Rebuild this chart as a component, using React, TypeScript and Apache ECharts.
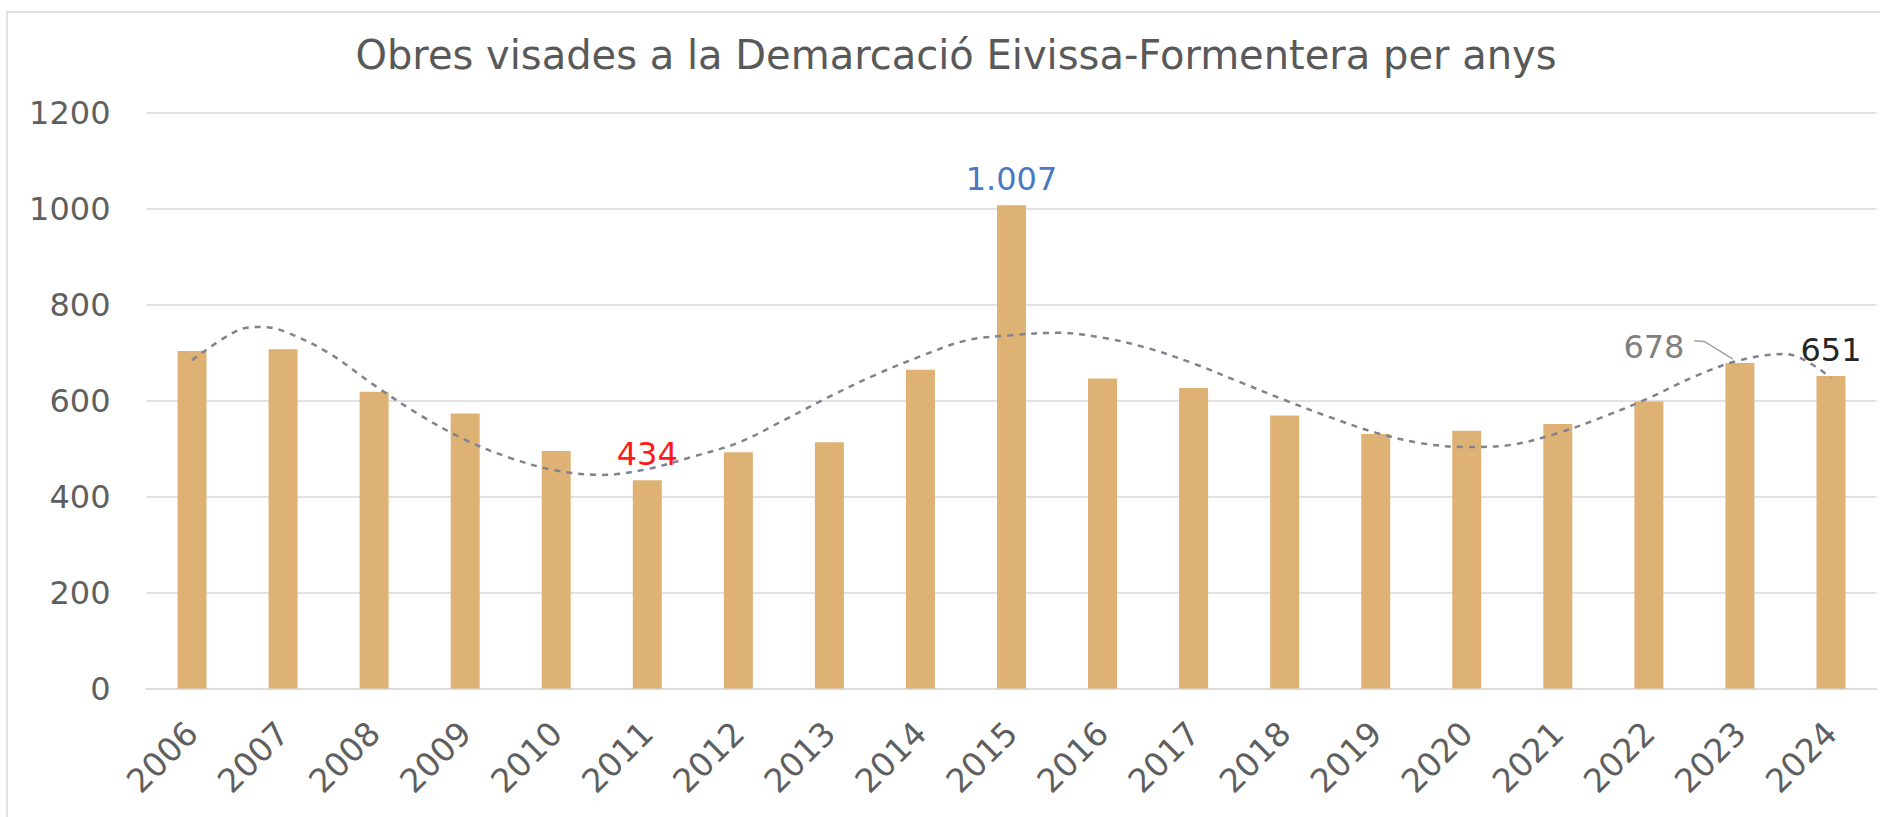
import React, { useEffect, useRef } from "react";
import * as echarts from "echarts";

const titleText = "Obres visades a la Demarcació Eivissa-Formentera per anys";
const categories = ["2006", "2007", "2008", "2009", "2010", "2011", "2012", "2013", "2014", "2015", "2016", "2017", "2018", "2019", "2020", "2021", "2022", "2023", "2024"];
const values = [703, 707, 618, 573, 495, 434, 492, 513, 664, 1007, 646, 626, 569, 530, 537, 551, 598, 678, 651];
const labelTexts: Record<number, string> = { 5: "434", 9: "1.007", 17: "678", 18: "651" };
const labelColors: Record<number, string> = { 5: "#ff1a1a", 9: "#4a78c2", 17: "#808080", 18: "#262626" };
const yMin = 0;
const yMax = 1200;
const yStep = 200;
// trend line (category position, value)
const trendPos = [0, 0.5, 0.75, 1, 1.5, 2, 2.5, 3, 3.5, 4, 4.5, 5, 5.5, 6, 6.5, 7, 7.5, 8, 8.5, 9, 9.5, 10, 10.5, 11, 11.5, 12, 12.5, 13, 13.5, 14, 14.5, 15, 15.5, 16, 16.5, 17, 17.5, 18];
const trendValues = [684, 746, 753, 745, 699, 632, 570, 518, 480, 454, 445, 457, 483, 512, 559, 608, 653, 692, 725, 736, 741, 731, 709, 677, 639, 601, 565, 533, 511, 503, 508, 532, 566, 605, 650, 684, 697, 647];

const FONT = "DejaVu Sans";

export default function App() {
  const ref = useRef<HTMLDivElement>(null);
  useEffect(() => {
    if (!ref.current) return;
    const chart = echarts.init(ref.current, null, { renderer: "svg" });
    const barData = values.map((v, i) => {
      if (!labelTexts[i]) return v;
      const lab: any = {
        show: true,
        position: "top",
        distance: 10,
        formatter: labelTexts[i],
        color: labelColors[i],
        fontSize: 32,
        fontFamily: FONT,
      };
      if (i === 17) lab.offset = [-86, 10];
      return { value: v, label: lab };
    });
    chart.setOption({
      animation: false,
      grid: { left: 146.5, right: 3.5, top: 112.5, bottom: 128.5 },
      xAxis: [
        {
          type: "category",
          data: categories,
          axisTick: { show: false },
          axisLine: { show: true, lineStyle: { color: "#dcdcdc", width: 2 } },
          axisLabel: { rotate: 45, fontSize: 33, color: "#5f5f5f", fontFamily: FONT, margin: 39, interval: 0 },
        },
        { type: "value", min: -0.5, max: 18.5, show: false },
      ],
      yAxis: {
        type: "value",
        min: yMin,
        max: yMax,
        interval: yStep,
        axisLine: { show: false },
        axisTick: { show: false },
        axisLabel: { fontSize: 32, color: "#5f5f5f", fontFamily: FONT, margin: 36, formatter: (v: number) => String(v) },
        splitLine: { lineStyle: { color: "#e2e2e2", width: 2 } },
      },
      series: [
        {
          type: "bar",
          data: barData,
          barWidth: 29,
          itemStyle: { color: "#deb275" },
          z: 2,
        },
        {
          type: "line",
          xAxisIndex: 1,
          data: trendPos.map((p, i) => [p, trendValues[i]]),
          smooth: 0.35,
          showSymbol: false,
          symbol: "none",
          lineStyle: { color: "#7f838e", width: 2.5, type: [6, 6] },
          z: 3,
        },
      ],
    });
    const p = chart.convertToPixel({ xAxisIndex: 0, yAxisIndex: 0 }, [categories[17], values[17]]) as number[];
    chart.setOption({
      graphic: [
        {
          type: "rect",
          shape: { x: 7, y: 12, width: 1900, height: 900 },
          style: { fill: "none", stroke: "#d9d9d9", lineWidth: 1.5 },
          silent: true,
        },
        {
          type: "text",
          x: 956,
          y: 55,
          style: {
            text: titleText,
            textAlign: "center",
            textVerticalAlign: "middle",
            fontSize: 40,
            fontFamily: FONT,
            fill: "#595959",
          },
        },
        {
          type: "polyline",
          shape: {
            points: [
              [p[0] - 45.5, p[1] - 22.3],
              [p[0] - 35.5, p[1] - 21.6],
              [p[0] - 7, p[1] - 4],
            ],
          },
          style: { stroke: "#a0a0a0", lineWidth: 1.5, fill: "none" },
          z: 10,
        },
      ],
    });
    return () => chart.dispose();
  }, []);
  return <div ref={ref} style={{ position: "absolute", left: 0, top: 0, width: 1880, height: 817 }} />;
}
